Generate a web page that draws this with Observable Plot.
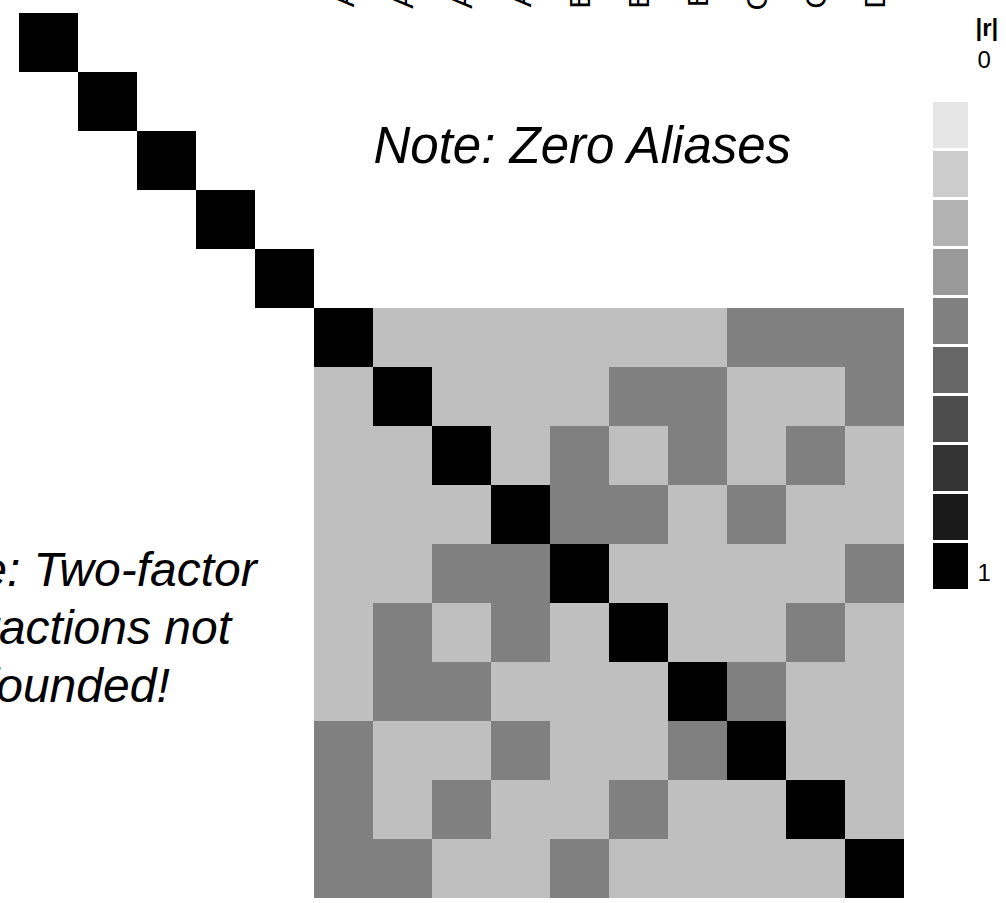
<!DOCTYPE html>
<html>
<head>
<meta charset="utf-8">
<script src="https://cdn.jsdelivr.net/npm/d3@7"></script>
<script src="https://cdn.jsdelivr.net/npm/@observablehq/plot@0.6"></script>
<style>
html, body { margin: 0; padding: 0; background: #ffffff; overflow: hidden; width: 1006px; height: 903px; }
#wrap { position: relative; width: 1006px; height: 903px; overflow: hidden; }
#main { position: absolute; left: 0; top: 0; }
#legend { position: absolute; left: 925px; top: 0; }
svg { overflow: hidden; }
</style>
</head>
<body>
<div id="wrap"><div id="main"></div><div id="legend"></div></div>
<script>
// Model terms (rows and columns of the color map)
const mainEffects = ["A", "B", "C", "D", "E"];
const interactions = ["A*B", "A*C", "A*D", "A*E", "B*C", "B*D", "B*E", "C*D", "C*E", "D*E"];
const terms = mainEffects.concat(interactions);

// |r| between terms, row by row
const absCorr = [
  [1, 0, 0, 0, 0,   0, 0, 0, 0, 0, 0, 0, 0, 0, 0],
  [0, 1, 0, 0, 0,   0, 0, 0, 0, 0, 0, 0, 0, 0, 0],
  [0, 0, 1, 0, 0,   0, 0, 0, 0, 0, 0, 0, 0, 0, 0],
  [0, 0, 0, 1, 0,   0, 0, 0, 0, 0, 0, 0, 0, 0, 0],
  [0, 0, 0, 0, 1,   0, 0, 0, 0, 0, 0, 0, 0, 0, 0],
  [0, 0, 0, 0, 0,   1, 0.25, 0.25, 0.25, 0.25, 0.25, 0.25, 0.5, 0.5, 0.5],
  [0, 0, 0, 0, 0,   0.25, 1, 0.25, 0.25, 0.25, 0.5, 0.5, 0.25, 0.25, 0.5],
  [0, 0, 0, 0, 0,   0.25, 0.25, 1, 0.25, 0.5, 0.25, 0.5, 0.25, 0.5, 0.25],
  [0, 0, 0, 0, 0,   0.25, 0.25, 0.25, 1, 0.5, 0.5, 0.25, 0.5, 0.25, 0.25],
  [0, 0, 0, 0, 0,   0.25, 0.25, 0.5, 0.5, 1, 0.25, 0.25, 0.25, 0.25, 0.5],
  [0, 0, 0, 0, 0,   0.25, 0.5, 0.25, 0.5, 0.25, 1, 0.25, 0.25, 0.5, 0.25],
  [0, 0, 0, 0, 0,   0.25, 0.5, 0.5, 0.25, 0.25, 0.25, 1, 0.5, 0.25, 0.25],
  [0, 0, 0, 0, 0,   0.5, 0.25, 0.25, 0.5, 0.25, 0.25, 0.5, 1, 0.25, 0.25],
  [0, 0, 0, 0, 0,   0.5, 0.25, 0.5, 0.25, 0.25, 0.5, 0.25, 0.25, 1, 0.25],
  [0, 0, 0, 0, 0,   0.5, 0.5, 0.25, 0.25, 0.5, 0.25, 0.25, 0.25, 0.25, 1]
];

// Legend swatch values and labels
const legendValues = [0.1, 0.2, 0.3, 0.4, 0.5, 0.6, 0.7, 0.8, 0.9, 1.0];
const legendTitle = "|r|";
const legendLow = "0";
const legendHigh = "1";

// Notes
const noteTop = "Note: Zero Aliases";
const noteLeft = "Note: Two-factor\ninteractions not\nconfounded!";

const cells = terms.flatMap((r, i) => terms.map((c, j) => ({row: r, col: c, v: absCorr[i][j]})));

const FONT = "'Liberation Sans', Arial, Helvetica, sans-serif";
const colorScale = {type: "linear", domain: [0, 1], range: ["#ffffff", "#000000"], interpolate: "rgb"};

const main = Plot.plot({
  width: 1006,
  height: 905,
  marginLeft: 11.5,
  marginRight: 95.5,
  marginTop: 6,
  marginBottom: 0,
  style: {fontFamily: FONT, background: "transparent", color: "black"},
  x: {type: "band", domain: terms, padding: 0, axis: null},
  y: {type: "band", domain: terms, padding: 0, axis: null},
  color: colorScale,
  marks: [
    Plot.cell(cells, {x: "col", y: "row", fill: "v", inset: 0, shapeRendering: "crispEdges"}),
    // column labels of the interaction terms (only their ends reach into the picture)
    Plot.text(interactions, {
      x: d => d, text: d => d, frameAnchor: "top", rotate: -90,
      textAnchor: "end", lineAnchor: "middle", dy: -51, fontSize: 30, fill: "black"
    }),
    Plot.text([noteTop], {
      text: d => d, frameAnchor: "top-left", dx: 361.5, dy: 156,
      textAnchor: "start", lineAnchor: "bottom", fontSize: 51, fontStyle: "italic", fill: "black"
    }),
    Plot.text([noteLeft], {
      text: d => d, frameAnchor: "top-left", dx: -106.5, dy: 539, lineHeight: 1.2,
      textAnchor: "start", lineAnchor: "top", fontSize: 48, fontStyle: "italic", fill: "black"
    })
  ]
});
document.getElementById("main").appendChild(main);

const legend = Plot.plot({
  width: 81,
  height: 610,
  marginLeft: 8,
  marginRight: 38,
  marginTop: 0,
  marginBottom: 0,
  style: {fontFamily: FONT, background: "transparent", color: "black"},
  y: {type: "band", domain: legendValues, range: [100, 592], paddingInner: 0.055, paddingOuter: 0, axis: null},
  color: colorScale,
  marks: [
    Plot.cell(legendValues, {y: d => d, fill: d => d, inset: 0, shapeRendering: "crispEdges"}),
    Plot.text([legendTitle], {
      text: d => d, frameAnchor: "top-left", dx: 42, dy: 35,
      textAnchor: "start", lineAnchor: "bottom", fontSize: 24, fontWeight: "bold", fill: "black"
    }),
    Plot.text([legendLow], {
      text: d => d, frameAnchor: "top-left", dx: 44, dy: 67,
      textAnchor: "start", lineAnchor: "bottom", fontSize: 24, fill: "black"
    }),
    Plot.text([legendHigh], {
      text: d => d, frameAnchor: "top-left", dx: 44, dy: 580,
      textAnchor: "start", lineAnchor: "bottom", fontSize: 24, fill: "black"
    })
  ]
});
document.getElementById("legend").appendChild(legend);
</script>
</body>
</html>
